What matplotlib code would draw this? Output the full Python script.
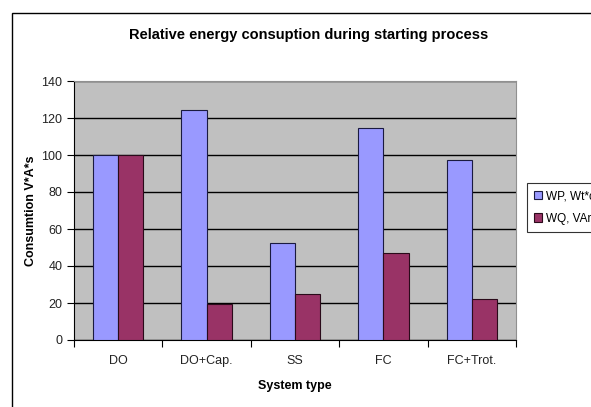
import numpy as np
import matplotlib.pyplot as plt
from matplotlib.patches import Rectangle

plt.rcParams["font.family"] = ["Liberation Sans", "DejaVu Sans"]

categories = ["DO", "DO+Cap.", "SS", "FC", "FC+Trot."]
wp_values = [100, 124.5, 52.5, 114.5, 97.5]
wq_values = [100, 19.5, 25, 47, 22]
series_names = ["WP, Wt*c", "WQ, VAr*c"]

fig = plt.figure(figsize=(5.91, 4.07), dpi=100)
fig.patch.set_facecolor("white")

# outer chart border (cut off on the right and bottom like the screenshot)
fig.patches.append(Rectangle((12 / 591, -0.1), 1.2, 1 - 13 / 407 + 0.1,
                             transform=fig.transFigure, fill=False,
                             edgecolor="black", linewidth=1.0))

ax = fig.add_axes([74 / 591, 1 - 340 / 407, 442 / 591, 259 / 407])
ax.set_facecolor("#C0C0C0")

x = np.arange(len(categories))
w = 1 / 3.5
ax.bar(x - w / 2, wp_values, width=w, color="#9999FF", edgecolor="#1a1a40",
       linewidth=0.8, label=series_names[0], zorder=3)
ax.bar(x + w / 2, wq_values, width=w, color="#993366", edgecolor="#2a0a1a",
       linewidth=0.8, label=series_names[1], zorder=3)

ax.set_xlim(-0.5, len(categories) - 0.5)
ax.set_ylim(0, 140)
ax.set_yticks(np.arange(0, 141, 20))
ax.yaxis.grid(True, color="black", linewidth=1.0, zorder=1)
ax.set_axisbelow(True)

ax.set_xticks(np.arange(-0.5, len(categories), 1.0))
ax.set_xticklabels([])
ax.set_xticks(x, minor=True)
ax.set_xticklabels(categories, minor=True)
ax.tick_params(axis="x", which="minor", length=0, pad=11, labelsize=9, labelcolor="#222222")
ax.tick_params(axis="x", which="major", length=5, direction="out")
ax.tick_params(axis="y", length=5, labelsize=9, labelcolor="#222222")

for side in ["top", "right"]:
    ax.spines[side].set_color("#909090")
ax.spines["left"].set_color("black")
ax.spines["bottom"].set_color("black")

ax.set_xlabel("System type", fontsize=9, fontweight="bold", labelpad=9)
ax.set_ylabel("Consumtion V*A*s", fontsize=9, fontweight="bold", labelpad=3)

fig.text(0.522, 1 - 35 / 407, "Relative energy consuption during starting process",
         ha="center", va="center", fontsize=10.5, fontweight="bold")

leg = fig.legend(loc="upper left", bbox_to_anchor=(527 / 591, 1 - 183 / 407),
                 fontsize=8.5, frameon=True, fancybox=False, edgecolor="black",
                 handlelength=0.7, handleheight=0.7, handletextpad=0.3,
                 borderpad=0.6, labelspacing=0.9, borderaxespad=0)
leg.get_frame().set_linewidth(0.8)

fig.savefig("out.png", dpi=100)
